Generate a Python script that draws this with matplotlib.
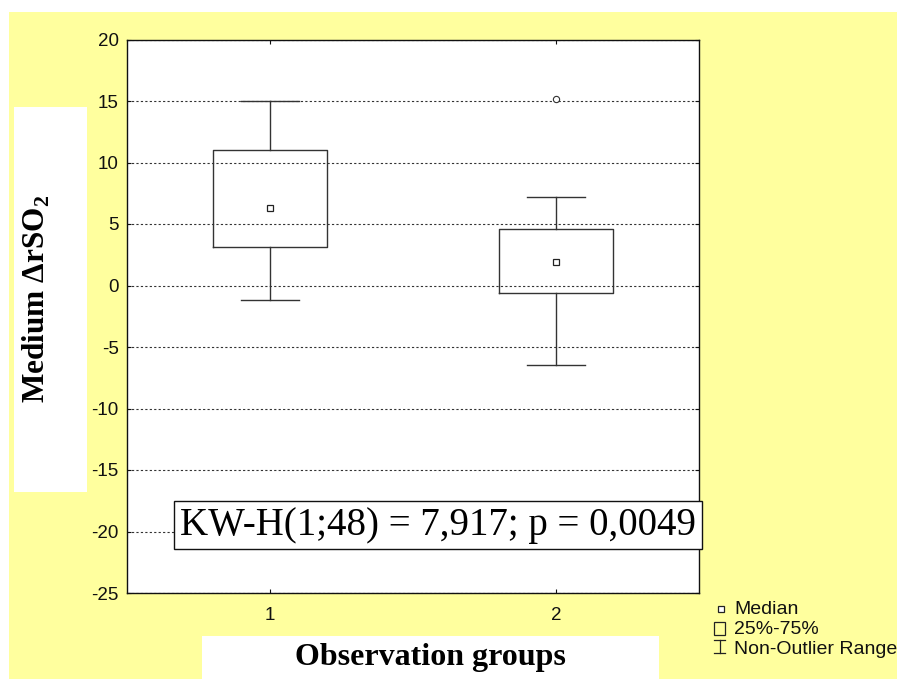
import matplotlib
matplotlib.use("Agg")
import matplotlib.pyplot as plt
from matplotlib.patches import Rectangle
from matplotlib.lines import Line2D

plt.rcParams['mathtext.fontset'] = 'custom'
plt.rcParams['mathtext.rm'] = 'Liberation Serif'
plt.rcParams['mathtext.bf'] = 'Liberation Serif:bold'
plt.rcParams['axes.unicode_minus'] = False

# ---- data ----
groups = ["1", "2"]
positions = [1, 2]
medians = [6.3, 1.9]
q1 = [3.15, -0.65]
q3 = [11.0, 4.57]
whisker_low = [-1.2, -6.5]
whisker_high = [15.0, 7.2]
outliers = [[], [15.15]]
y_ticks = [-25, -20, -15, -10, -5, 0, 5, 10, 15, 20]
stat_text = "KW-H(1;48) = 7,917; p = 0,0049"
legend_labels = ["Median", "25%-75%", "Non-Outlier Range"]

W, H = 897, 679
fig = plt.figure(figsize=(W / 100, H / 100), dpi=100, facecolor="white")

def fx(px):
    return px / W

def fy(py):
    return 1 - py / H

def frect(x0, y0, x1, y1, **kw):
    r = Rectangle((fx(x0), fy(y1)), fx(x1) - fx(x0), fy(y0) - fy(y1),
                  transform=fig.transFigure, **kw)
    fig.patches.append(r)
    return r

# yellow background
frect(9, 12, 897, 679, facecolor="#FFFF9E", edgecolor="none", zorder=-2)
# white label boxes
frect(14, 107, 87, 492, facecolor="white", edgecolor="none", zorder=-1)
frect(202, 636, 659, 679, facecolor="white", edgecolor="none", zorder=-1)

ax = fig.add_axes([fx(127), fy(593), fx(699) - fx(127), fy(39.5) - fy(593)])
ax.set_zorder(2)
ax.set_facecolor("white")

stats = []
for i in range(len(groups)):
    stats.append(dict(med=medians[i], q1=q1[i], q3=q3[i],
                      whislo=whisker_low[i], whishi=whisker_high[i],
                      fliers=outliers[i], label=groups[i]))

ax.bxp(stats, positions=positions, widths=0.4, capwidths=0.2,
       boxprops=dict(color="#333333", linewidth=1.0),
       whiskerprops=dict(color="#333333", linewidth=1.0),
       capprops=dict(color="#333333", linewidth=1.0),
       medianprops=dict(linestyle="none"),
       flierprops=dict(marker="o", markersize=4.5, markerfacecolor="white",
                       markeredgecolor="#333333", markeredgewidth=0.8),
       zorder=3)
ax.plot(positions, medians, linestyle="none", marker="s", markersize=4.2,
        markerfacecolor="white", markeredgecolor="#222222",
        markeredgewidth=0.9, zorder=4)

ax.set_xlim(0.5, 2.5)
ax.set_ylim(-25, 20)
ax.set_yticks(y_ticks)
ax.set_xticks(positions)
ax.set_xticklabels(groups)
ax.yaxis.grid(True, linestyle=(0, (2, 2)), color="#333333", linewidth=0.8)
ax.set_axisbelow(True)
ax.tick_params(axis="both", direction="in", length=3, width=0.8,
               top=True, right=True, labelsize=13.5,
               labelfontfamily="Liberation Sans", colors="#111111")
ax.tick_params(axis="y", pad=6)
ax.tick_params(axis="x", pad=10)
for s in ax.spines.values():
    s.set_color("#111111")
    s.set_linewidth(1.0)

# axis titles
fig.text(fx(36), fy(299), "Medium ΔrSO$_\\mathbf{2}$", rotation=90,
         ha="center", va="center", fontsize=22.5, fontweight="bold",
         family="Liberation Serif", zorder=5)
fig.text(fx(430), fy(657), "Observation groups", ha="center", va="center",
         fontsize=23, fontweight="bold", family="Liberation Serif", zorder=5)

# statistic box
fig.text(fx(438), fy(525), stat_text, ha="center", va="center",
         fontsize=28, family="Liberation Serif", zorder=6,
         bbox=dict(boxstyle="square,pad=0.15", facecolor="white",
                   edgecolor="#111111", linewidth=1.0))

# legend
fig.lines.append(Line2D([fx(720.5)], [fy(609)], transform=fig.transFigure,
                        marker="s", markersize=4.2, markerfacecolor="white",
                        markeredgecolor="#222222", markeredgewidth=0.9,
                        linestyle="none"))
frect(714, 622, 725, 635, facecolor="none", edgecolor="#222222",
      linewidth=0.9, zorder=5)
for seg in ([(719.5, 640), (719.5, 653)], [(714, 640), (725, 640)],
            [(714, 653), (725, 653)]):
    fig.lines.append(Line2D([fx(seg[0][0]), fx(seg[1][0])],
                            [fy(seg[0][1]), fy(seg[1][1])],
                            transform=fig.transFigure, color="#222222",
                            linewidth=0.9))
for lab, yy in zip(legend_labels, [609, 629, 649]):
    fig.text(fx(734), fy(yy), lab, ha="left", va="center", fontsize=14,
             family="Liberation Sans", color="#111111")

fig.savefig("out.png", dpi=100, facecolor=fig.get_facecolor())
